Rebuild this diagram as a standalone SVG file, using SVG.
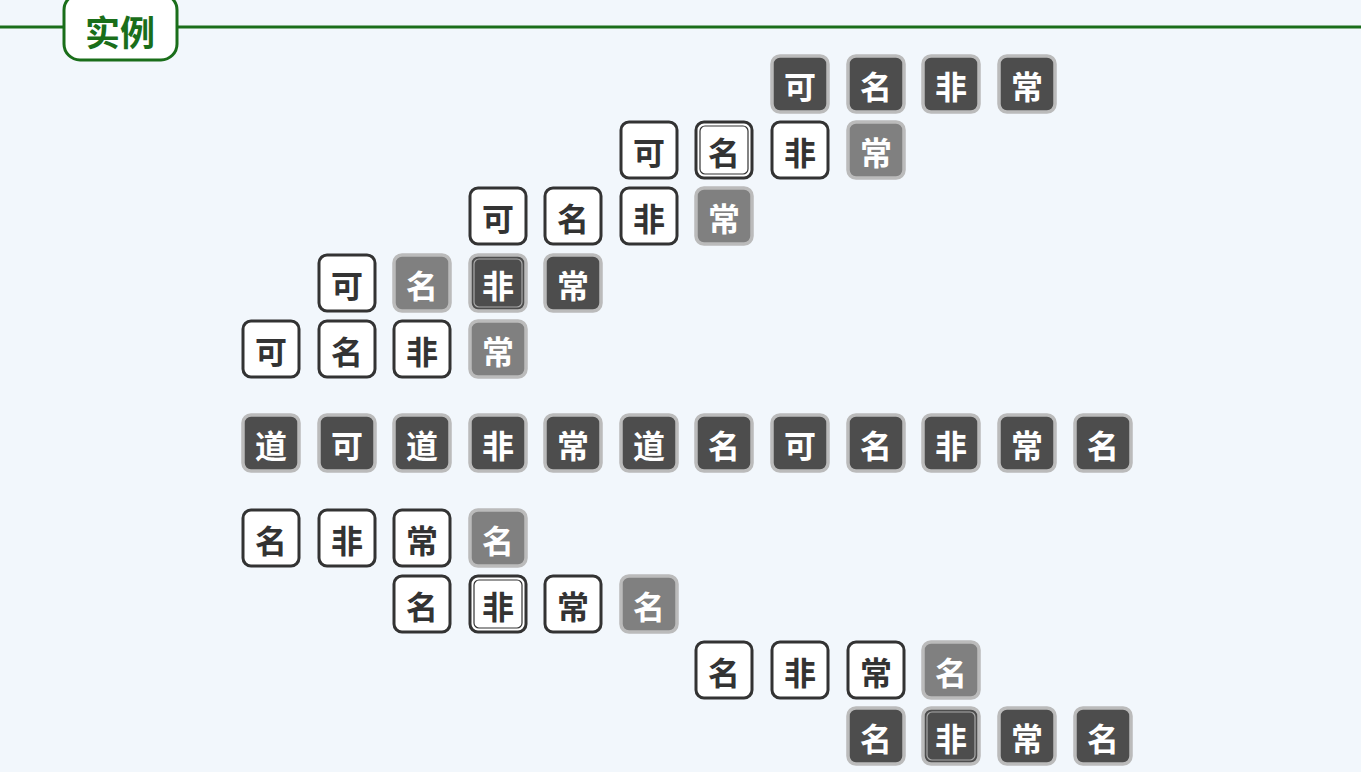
<svg xmlns="http://www.w3.org/2000/svg" width="1361" height="772" viewBox="0 0 1361 772">
<style>
.w rect.b{fill:#fff;stroke:#333;stroke-width:3}
.d rect.b{fill:#4d4d4d;stroke:#bbb;stroke-width:3.5}
.g rect.b{fill:#808080;stroke:#bbb;stroke-width:3.5}
.w text{fill:#333}
.d text,.g text{fill:#fff}
text{font-family:"Noto Sans CJK SC","Noto Sans",sans-serif;font-weight:bold;font-size:32px;text-anchor:middle;dominant-baseline:central}
.wi{fill:none;stroke:#333;stroke-width:1.2}
.di{fill:none;stroke:#aaa;stroke-width:1.2}
</style>
<rect width="1361" height="772" fill="#f2f7fc"/>
<g id="title">
<line x1="0" y1="27" x2="1361" y2="27" stroke="#1a6e1a" stroke-width="3"/>
<rect x="64" y="-6" width="113" height="66" rx="16" fill="#fff" stroke="#1a6e1a" stroke-width="3"/>
<text x="120" y="30" style="fill:#1a6e1a;font-size:35px">实例</text>
</g>
<g id="connectors"></g>
<g id="r1c7" class="d" transform="translate(800,84)"><rect class="b" x="-28" y="-28" width="56" height="56" rx="8"/><text y="1">可</text></g>
<g id="r1c8" class="d" transform="translate(876,84)"><rect class="b" x="-28" y="-28" width="56" height="56" rx="8"/><text y="1">名</text></g>
<g id="r1c9" class="d" transform="translate(951,84)"><rect class="b" x="-28" y="-28" width="56" height="56" rx="8"/><text y="1">非</text></g>
<g id="r1c10" class="d" transform="translate(1027,84)"><rect class="b" x="-28" y="-28" width="56" height="56" rx="8"/><text y="1">常</text></g>
<g id="r2c5" class="w" transform="translate(649,150)"><rect class="b" x="-28" y="-28" width="56" height="56" rx="8"/><text y="1">可</text></g>
<g id="r2c6" class="w" transform="translate(724,150)"><rect class="b" x="-28" y="-28" width="56" height="56" rx="8"/><rect class="wi" x="-24" y="-24" width="48" height="48" rx="5"/><text y="1">名</text></g>
<g id="r2c7" class="w" transform="translate(800,150)"><rect class="b" x="-28" y="-28" width="56" height="56" rx="8"/><text y="1">非</text></g>
<g id="r2c8" class="g" transform="translate(876,150)"><rect class="b" x="-28" y="-28" width="56" height="56" rx="8"/><text y="1">常</text></g>
<g id="r3c3" class="w" transform="translate(498,216)"><rect class="b" x="-28" y="-28" width="56" height="56" rx="8"/><text y="1">可</text></g>
<g id="r3c4" class="w" transform="translate(573,216)"><rect class="b" x="-28" y="-28" width="56" height="56" rx="8"/><text y="1">名</text></g>
<g id="r3c5" class="w" transform="translate(649,216)"><rect class="b" x="-28" y="-28" width="56" height="56" rx="8"/><text y="1">非</text></g>
<g id="r3c6" class="g" transform="translate(724,216)"><rect class="b" x="-28" y="-28" width="56" height="56" rx="8"/><text y="1">常</text></g>
<g id="r4c1" class="w" transform="translate(347,283)"><rect class="b" x="-28" y="-28" width="56" height="56" rx="8"/><text y="1">可</text></g>
<g id="r4c2" class="g" transform="translate(422,283)"><rect class="b" x="-28" y="-28" width="56" height="56" rx="8"/><text y="1">名</text></g>
<g id="r4c3" class="d" transform="translate(498,283)"><rect class="b" x="-28" y="-28" width="56" height="56" rx="8"/><rect class="di" x="-24" y="-24" width="48" height="48" rx="5"/><text y="1">非</text></g>
<g id="r4c4" class="d" transform="translate(573,283)"><rect class="b" x="-28" y="-28" width="56" height="56" rx="8"/><text y="1">常</text></g>
<g id="r5c0" class="w" transform="translate(271,349)"><rect class="b" x="-28" y="-28" width="56" height="56" rx="8"/><text y="1">可</text></g>
<g id="r5c1" class="w" transform="translate(347,349)"><rect class="b" x="-28" y="-28" width="56" height="56" rx="8"/><text y="1">名</text></g>
<g id="r5c2" class="w" transform="translate(422,349)"><rect class="b" x="-28" y="-28" width="56" height="56" rx="8"/><text y="1">非</text></g>
<g id="r5c3" class="g" transform="translate(498,349)"><rect class="b" x="-28" y="-28" width="56" height="56" rx="8"/><text y="1">常</text></g>
<g id="r6c0" class="d" transform="translate(271,443)"><rect class="b" x="-28" y="-28" width="56" height="56" rx="8"/><text y="1">道</text></g>
<g id="r6c1" class="d" transform="translate(347,443)"><rect class="b" x="-28" y="-28" width="56" height="56" rx="8"/><text y="1">可</text></g>
<g id="r6c2" class="d" transform="translate(422,443)"><rect class="b" x="-28" y="-28" width="56" height="56" rx="8"/><text y="1">道</text></g>
<g id="r6c3" class="d" transform="translate(498,443)"><rect class="b" x="-28" y="-28" width="56" height="56" rx="8"/><text y="1">非</text></g>
<g id="r6c4" class="d" transform="translate(573,443)"><rect class="b" x="-28" y="-28" width="56" height="56" rx="8"/><text y="1">常</text></g>
<g id="r6c5" class="d" transform="translate(649,443)"><rect class="b" x="-28" y="-28" width="56" height="56" rx="8"/><text y="1">道</text></g>
<g id="r6c6" class="d" transform="translate(724,443)"><rect class="b" x="-28" y="-28" width="56" height="56" rx="8"/><text y="1">名</text></g>
<g id="r6c7" class="d" transform="translate(800,443)"><rect class="b" x="-28" y="-28" width="56" height="56" rx="8"/><text y="1">可</text></g>
<g id="r6c8" class="d" transform="translate(876,443)"><rect class="b" x="-28" y="-28" width="56" height="56" rx="8"/><text y="1">名</text></g>
<g id="r6c9" class="d" transform="translate(951,443)"><rect class="b" x="-28" y="-28" width="56" height="56" rx="8"/><text y="1">非</text></g>
<g id="r6c10" class="d" transform="translate(1027,443)"><rect class="b" x="-28" y="-28" width="56" height="56" rx="8"/><text y="1">常</text></g>
<g id="r6c11" class="d" transform="translate(1103,443)"><rect class="b" x="-28" y="-28" width="56" height="56" rx="8"/><text y="1">名</text></g>
<g id="r7c0" class="w" transform="translate(271,538)"><rect class="b" x="-28" y="-28" width="56" height="56" rx="8"/><text y="1">名</text></g>
<g id="r7c1" class="w" transform="translate(347,538)"><rect class="b" x="-28" y="-28" width="56" height="56" rx="8"/><text y="1">非</text></g>
<g id="r7c2" class="w" transform="translate(422,538)"><rect class="b" x="-28" y="-28" width="56" height="56" rx="8"/><text y="1">常</text></g>
<g id="r7c3" class="g" transform="translate(498,538)"><rect class="b" x="-28" y="-28" width="56" height="56" rx="8"/><text y="1">名</text></g>
<g id="r8c2" class="w" transform="translate(422,604)"><rect class="b" x="-28" y="-28" width="56" height="56" rx="8"/><text y="1">名</text></g>
<g id="r8c3" class="w" transform="translate(498,604)"><rect class="b" x="-28" y="-28" width="56" height="56" rx="8"/><rect class="wi" x="-24" y="-24" width="48" height="48" rx="5"/><text y="1">非</text></g>
<g id="r8c4" class="w" transform="translate(573,604)"><rect class="b" x="-28" y="-28" width="56" height="56" rx="8"/><text y="1">常</text></g>
<g id="r8c5" class="g" transform="translate(649,604)"><rect class="b" x="-28" y="-28" width="56" height="56" rx="8"/><text y="1">名</text></g>
<g id="r9c6" class="w" transform="translate(724,670)"><rect class="b" x="-28" y="-28" width="56" height="56" rx="8"/><text y="1">名</text></g>
<g id="r9c7" class="w" transform="translate(800,670)"><rect class="b" x="-28" y="-28" width="56" height="56" rx="8"/><text y="1">非</text></g>
<g id="r9c8" class="w" transform="translate(876,670)"><rect class="b" x="-28" y="-28" width="56" height="56" rx="8"/><text y="1">常</text></g>
<g id="r9c9" class="g" transform="translate(951,670)"><rect class="b" x="-28" y="-28" width="56" height="56" rx="8"/><text y="1">名</text></g>
<g id="r10c8" class="d" transform="translate(876,736)"><rect class="b" x="-28" y="-28" width="56" height="56" rx="8"/><text y="1">名</text></g>
<g id="r10c9" class="d" transform="translate(951,736)"><rect class="b" x="-28" y="-28" width="56" height="56" rx="8"/><rect class="di" x="-24" y="-24" width="48" height="48" rx="5"/><text y="1">非</text></g>
<g id="r10c10" class="d" transform="translate(1027,736)"><rect class="b" x="-28" y="-28" width="56" height="56" rx="8"/><text y="1">常</text></g>
<g id="r10c11" class="d" transform="translate(1103,736)"><rect class="b" x="-28" y="-28" width="56" height="56" rx="8"/><text y="1">名</text></g>
</svg>
